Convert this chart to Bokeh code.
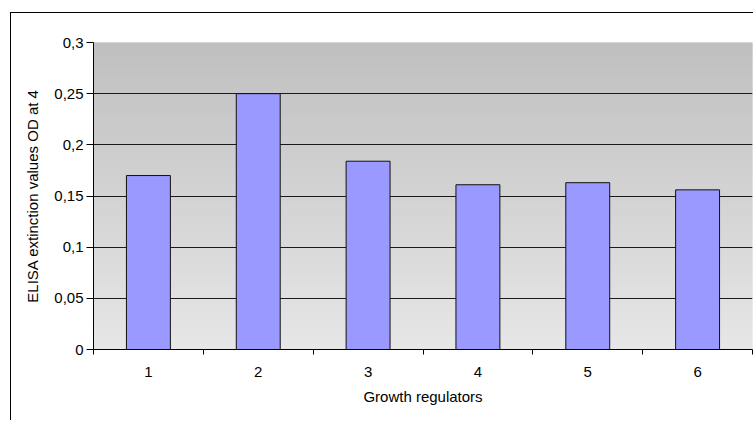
import numpy as np
from bokeh.plotting import figure
from bokeh.models import FixedTicker, ColumnDataSource, Range1d
from bokeh.embed import file_html
from bokeh.resources import INLINE

categories = ["1", "2", "3", "4", "5", "6"]
values = [0.170, 0.250, 0.184, 0.161, 0.163, 0.156]
y_ticks = [0, 0.05, 0.1, 0.15, 0.2, 0.25, 0.3]
y_tick_labels = ["0", "0,05", "0,1", "0,15", "0,2", "0,25", "0,3"]
x_label = "Growth regulators"
y_label = "ELISA extinction values OD at 4"

FONT = "Liberation Sans"
x_pos = list(range(1, len(categories) + 1))

p = figure(width=743, height=408, output_backend="svg", toolbar_location=None,
           x_range=Range1d(0.5, len(categories) + 0.5), y_range=Range1d(0, 0.3),
           min_border_left=82, min_border_right=2, min_border_top=29, min_border_bottom=72,
           margin=(12, 0, 0, 10),
           styles={"border-left": "1px solid black", "border-top": "1px solid black"})
p.background_fill_color = "white"
p.border_fill_color = "white"
p.outline_line_color = None

# gradient background bands (style only)
n = 120
edges = np.linspace(0, 0.3, n + 1)
c_top = np.array([192, 192, 192])
c_bot = np.array([231, 231, 231])
cols = []
for i in range(n):
    t = (i + 0.5) / n
    c = (c_bot * (1 - t) + c_top * t).astype(int)
    cols.append("#%02x%02x%02x" % tuple(c))
p.quad(left=0.5, right=len(categories) + 0.5, bottom=edges[:-1], top=edges[1:],
       fill_color=cols, line_color=cols, line_width=1, level="image")

src = ColumnDataSource(dict(x=x_pos, top=values))
p.vbar(x="x", top="top", width=0.4, bottom=0, source=src,
       fill_color="#9999FF", line_color="#111111", line_width=1)

# grid
p.xgrid.grid_line_color = None
p.ygrid.ticker = FixedTicker(ticks=y_ticks)
p.ygrid.grid_line_color = "#1a1a1a"
p.ygrid.grid_line_width = 1
p.ygrid.level = "underlay"

# y axis
p.yaxis.ticker = FixedTicker(ticks=y_ticks)
p.yaxis.major_label_overrides = {t: l for t, l in zip(y_ticks, y_tick_labels)}
p.yaxis.major_tick_out = 7
p.yaxis.major_tick_in = 0
p.yaxis.minor_tick_line_color = None
p.yaxis.major_label_standoff = 3
p.yaxis.axis_label = y_label
p.yaxis.axis_label_standoff = 10

# x axis
p.xaxis.ticker = FixedTicker(ticks=x_pos, minor_ticks=[x - 0.5 for x in x_pos] + [len(x_pos) + 0.5])
p.xaxis.major_label_overrides = {x: c for x, c in zip(x_pos, categories)}
p.xaxis.major_tick_out = 0
p.xaxis.major_tick_in = 0
p.xaxis.minor_tick_out = 5
p.xaxis.minor_tick_in = 0
p.xaxis.minor_tick_line_color = "black"
p.xaxis.major_label_standoff = 12
p.xaxis.axis_label = x_label
p.xaxis.axis_label_standoff = 8

for ax in (p.xaxis, p.yaxis):
    ax.axis_line_color = "black"
    ax.major_tick_line_color = "black"
    ax.major_label_text_font = FONT
    ax.major_label_text_font_size = "15px"
    ax.major_label_text_color = "black"
    ax.axis_label_text_font = FONT
    ax.axis_label_text_font_size = "15px"
    ax.axis_label_text_font_style = "normal"
    ax.axis_label_text_color = "black"

open("out.html", "w").write(file_html(p, INLINE))
